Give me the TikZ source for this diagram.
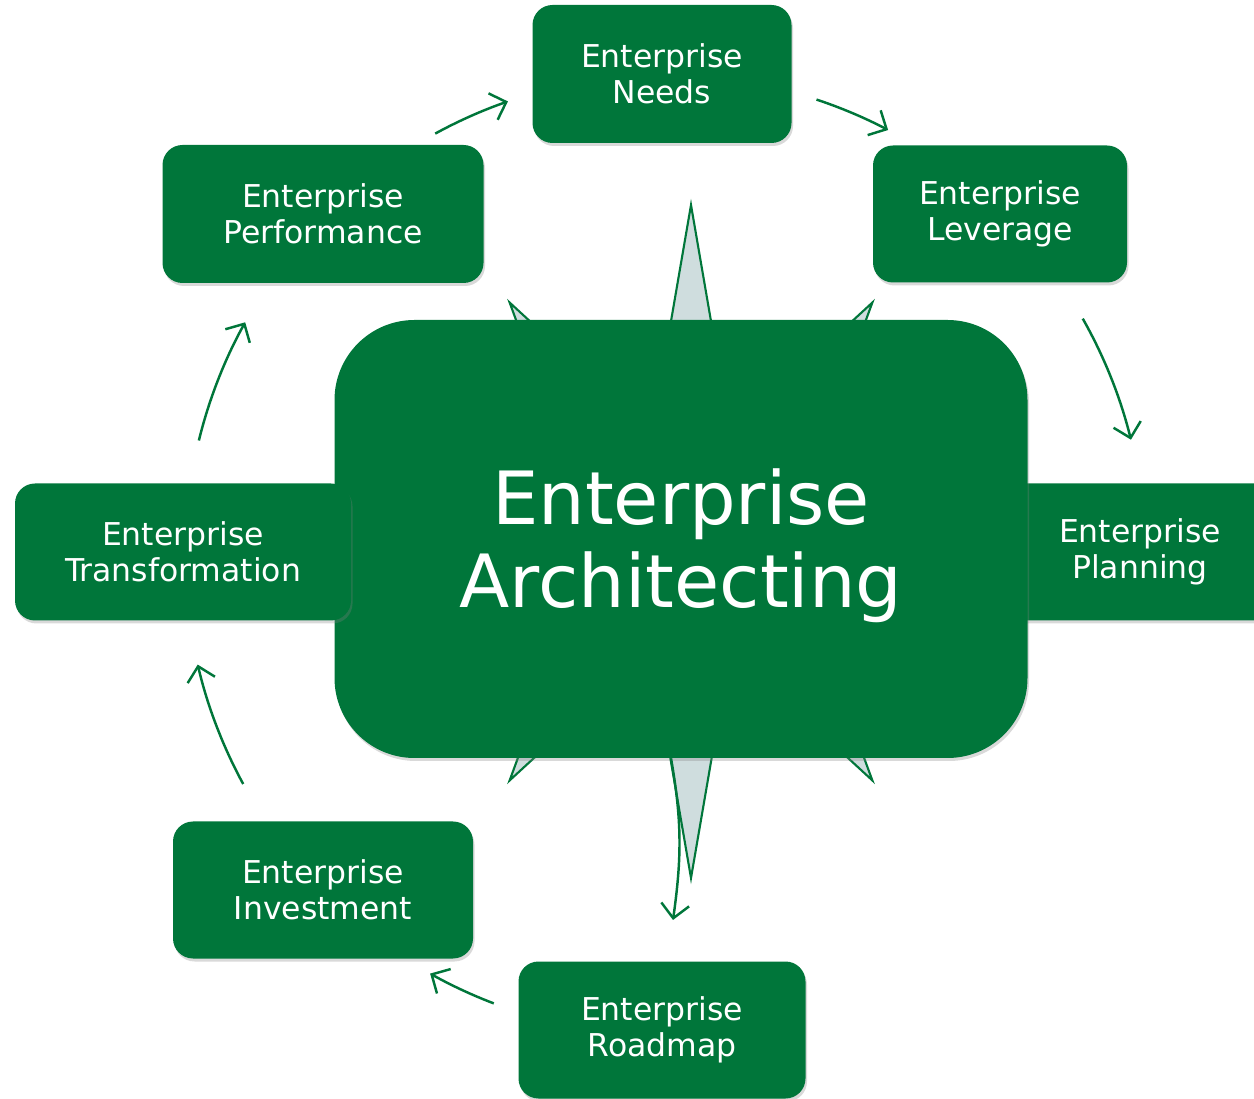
\documentclass[tikz,border=0pt]{standalone}
\usepackage{fontspec}
\setmainfont{DejaVu Sans}
\usetikzlibrary{arrows.meta,shadows,calc}
\definecolor{eagreen}{RGB}{0,118,58}
\definecolor{starfill}{RGB}{207,221,222}

\tikzset{
  eabox/.style={fill=eagreen, text=white, rounded corners=0.4cm, align=center, inner sep=0pt,
    font=\fontsize{17.9}{20.2}\selectfont,
    drop shadow={shadow xshift=0.03cm, shadow yshift=-0.06cm, opacity=0.3}},
  flow/.style={eagreen, line width=1.4pt, -{Straight Barb[length=2.8mm,width=5.6mm]}}
}

\begin{document}
\begin{tikzpicture}
  \clip (0,0) rectangle (25.08,21.96);

  % Compass star behind the hub
  \draw[eagreen, fill=starfill, line width=1.2pt, shift={(13.82,11.13)}]
    (0:6.0) -- (20:2.3) -- (52.8:6.0) -- (70:2.3) -- (90:6.73) -- (110:2.3) -- (127.2:6.0) -- (160:2.3)
    -- (180:6.0) -- (200:2.3) -- (232.8:6.0) -- (250:2.3) -- (270:6.73) -- (290:2.3) -- (307.2:6.0) -- (340:2.3) -- cycle;

  % Boxes
  \node[eabox, minimum width=6.0cm, minimum height=2.74cm] (plan) at (22.80,10.92) {Enterprise\\Planning};
  \node[eabox, rounded corners=1.6cm, minimum width=13.86cm, minimum height=8.76cm,
    font=\fontsize{41.8}{47}\selectfont] (hub) at (13.62,11.18) {\rule{0pt}{1.38cm}Enterprise\\Architecting};
  \node[eabox, minimum width=6.72cm, minimum height=2.74cm] (trans) at (3.66,10.92) {Enterprise\\Transformation};
  \node[eabox, minimum width=5.18cm, minimum height=2.76cm] (needs) at (13.24,20.48) {Enterprise\\Needs};
  \node[eabox, minimum width=5.08cm, minimum height=2.74cm] (lever) at (20.00,17.68) {Enterprise\\Leverage};
  \node[eabox, minimum width=6.42cm, minimum height=2.76cm] (perf) at (6.46,17.68) {Enterprise\\Performance};
  \node[eabox, minimum width=6.0cm, minimum height=2.74cm] (invest) at (6.46,4.16) {Enterprise\\Investment};
  \node[eabox, minimum width=5.74cm, minimum height=2.74cm] (road) at (13.24,1.36) {Enterprise\\Roadmap};

  % Cycle arrows on a ring
  \coordinate (ring) at (13.30,10.86);
  \foreach \a/\b in {118.6/109.1, 71.6/62.3, 29.5/13.9, 249.1/240.7, 208.5/193.2, 166.2/151}
    \draw[flow] ($(ring)+(\a:9.6)$) arc[start angle=\a, end angle=\b, radius=9.6];

  % Hub to roadmap
  \coordinate (roadin) at (13.46,3.56);
  \draw[flow] ([xshift=-0.2cm]hub.south) to[out=-80,in=82] (roadin);
\end{tikzpicture}
\end{document}
